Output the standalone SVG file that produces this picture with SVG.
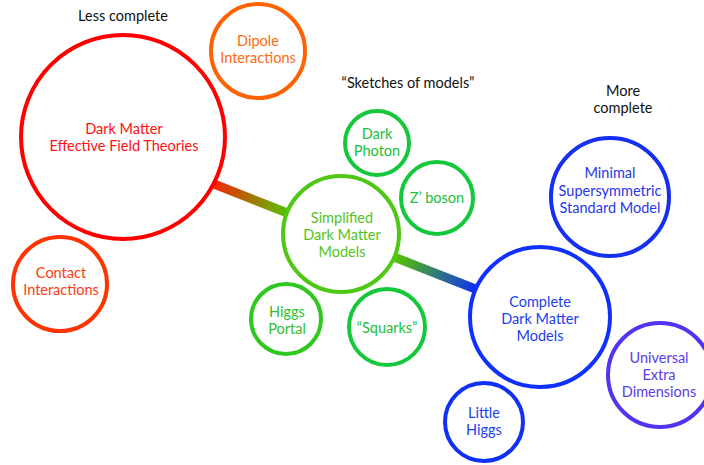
<svg xmlns="http://www.w3.org/2000/svg" width="704" height="465" viewBox="0 0 704 465">
<style>
text{font-family:"Lato","Open Sans","DejaVu Sans",sans-serif;font-size:14.5px;text-anchor:middle}
.c{fill:#fff;stroke-width:4}
.k{fill:#111}
</style>
<defs>
<linearGradient id="g1" gradientUnits="userSpaceOnUse" x1="216" y1="185" x2="288" y2="213">
<stop offset="0" stop-color="#f02a08"/><stop offset="1" stop-color="#55c400"/>
</linearGradient>
<linearGradient id="g2" gradientUnits="userSpaceOnUse" x1="396" y1="258" x2="476" y2="289">
<stop offset="0" stop-color="#55c400"/><stop offset="1" stop-color="#1030f0"/>
</linearGradient>
</defs>
<g id="connectors">
<line x1="214" y1="184" x2="290" y2="214" stroke="url(#g1)" stroke-width="9"/>
<line x1="394" y1="257" x2="478" y2="290" stroke="url(#g2)" stroke-width="9"/>
</g>
<text class="k" x="123" y="21">Less complete</text>
<text class="k" x="408" y="88">“Sketches of models”</text>
<text class="k" x="623" y="96">More</text>
<text class="k" x="623" y="113">complete</text>
<g id="eft">
<circle class="c" cx="123" cy="137" r="102" stroke="#ff0000" stroke-width="4.5"/>
<text fill="#ff1010" x="124" y="134">Dark Matter</text>
<text fill="#ff1010" x="124" y="151">Effective Field Theories</text>
</g>
<g id="dipole">
<circle class="c" cx="258" cy="51" r="47" stroke="#ff6200"/>
<text fill="#ff6a14" x="258" y="46">Dipole</text>
<text fill="#ff6a14" x="258" y="63">Interactions</text>
</g>
<g id="contact">
<circle class="c" cx="60" cy="284" r="47" stroke="#ff3300"/>
<text fill="#ff3a10" x="61" y="278">Contact</text>
<text fill="#ff3a10" x="61" y="295">Interactions</text>
</g>
<g id="simplified">
<circle class="c" cx="341" cy="234" r="58" stroke="#4ec814"/>
<text fill="#52c41c" x="342" y="223">Simplified</text>
<text fill="#52c41c" x="342" y="240">Dark Matter</text>
<text fill="#52c41c" x="342" y="257">Models</text>
</g>
<g id="darkphoton">
<circle class="c" cx="377" cy="143" r="32" stroke="#14c83c"/>
<text fill="#20c040" x="377" y="139">Dark</text>
<text fill="#20c040" x="377" y="156">Photon</text>
</g>
<g id="zboson">
<circle class="c" cx="437" cy="198" r="36" stroke="#14c83c"/>
<text fill="#20c040" x="437" y="203">Z’ boson</text>
</g>
<g id="higgsportal">
<circle class="c" cx="286" cy="319" r="35" stroke="#2ec81e"/>
<text fill="#30c030" x="287" y="317">Higgs</text>
<text fill="#30c030" x="287" y="334">Portal</text>
</g>
<g id="squarks">
<circle class="c" cx="387" cy="327" r="38" stroke="#14c83c"/>
<text fill="#20c040" x="387" y="333">“Squarks”</text>
</g>
<g id="complete">
<circle class="c" cx="540" cy="317" r="70" stroke="#1030ff"/>
<text fill="#2040f0" x="540" y="307">Complete</text>
<text fill="#2040f0" x="540" y="324">Dark Matter</text>
<text fill="#2040f0" x="540" y="341">Models</text>
</g>
<g id="mssm">
<circle class="c" cx="610" cy="197" r="59" stroke="#1530f0"/>
<text fill="#2838e8" x="610" y="178">Minimal</text>
<text fill="#2838e8" x="610" y="196">Supersymmetric</text>
<text fill="#2838e8" x="610" y="213">Standard Model</text>
</g>
<g id="ued">
<circle class="c" cx="660" cy="375" r="52" stroke="#5234f0"/>
<text fill="#5a3ce8" x="659" y="363">Universal</text>
<text fill="#5a3ce8" x="659" y="380">Extra</text>
<text fill="#5a3ce8" x="659" y="397">Dimensions</text>
</g>
<g id="littlehiggs">
<circle class="c" cx="484" cy="422" r="39" stroke="#1030f8"/>
<text fill="#2040f0" x="484" y="418">Little</text>
<text fill="#2040f0" x="484" y="435">Higgs</text>
</g>
</svg>
